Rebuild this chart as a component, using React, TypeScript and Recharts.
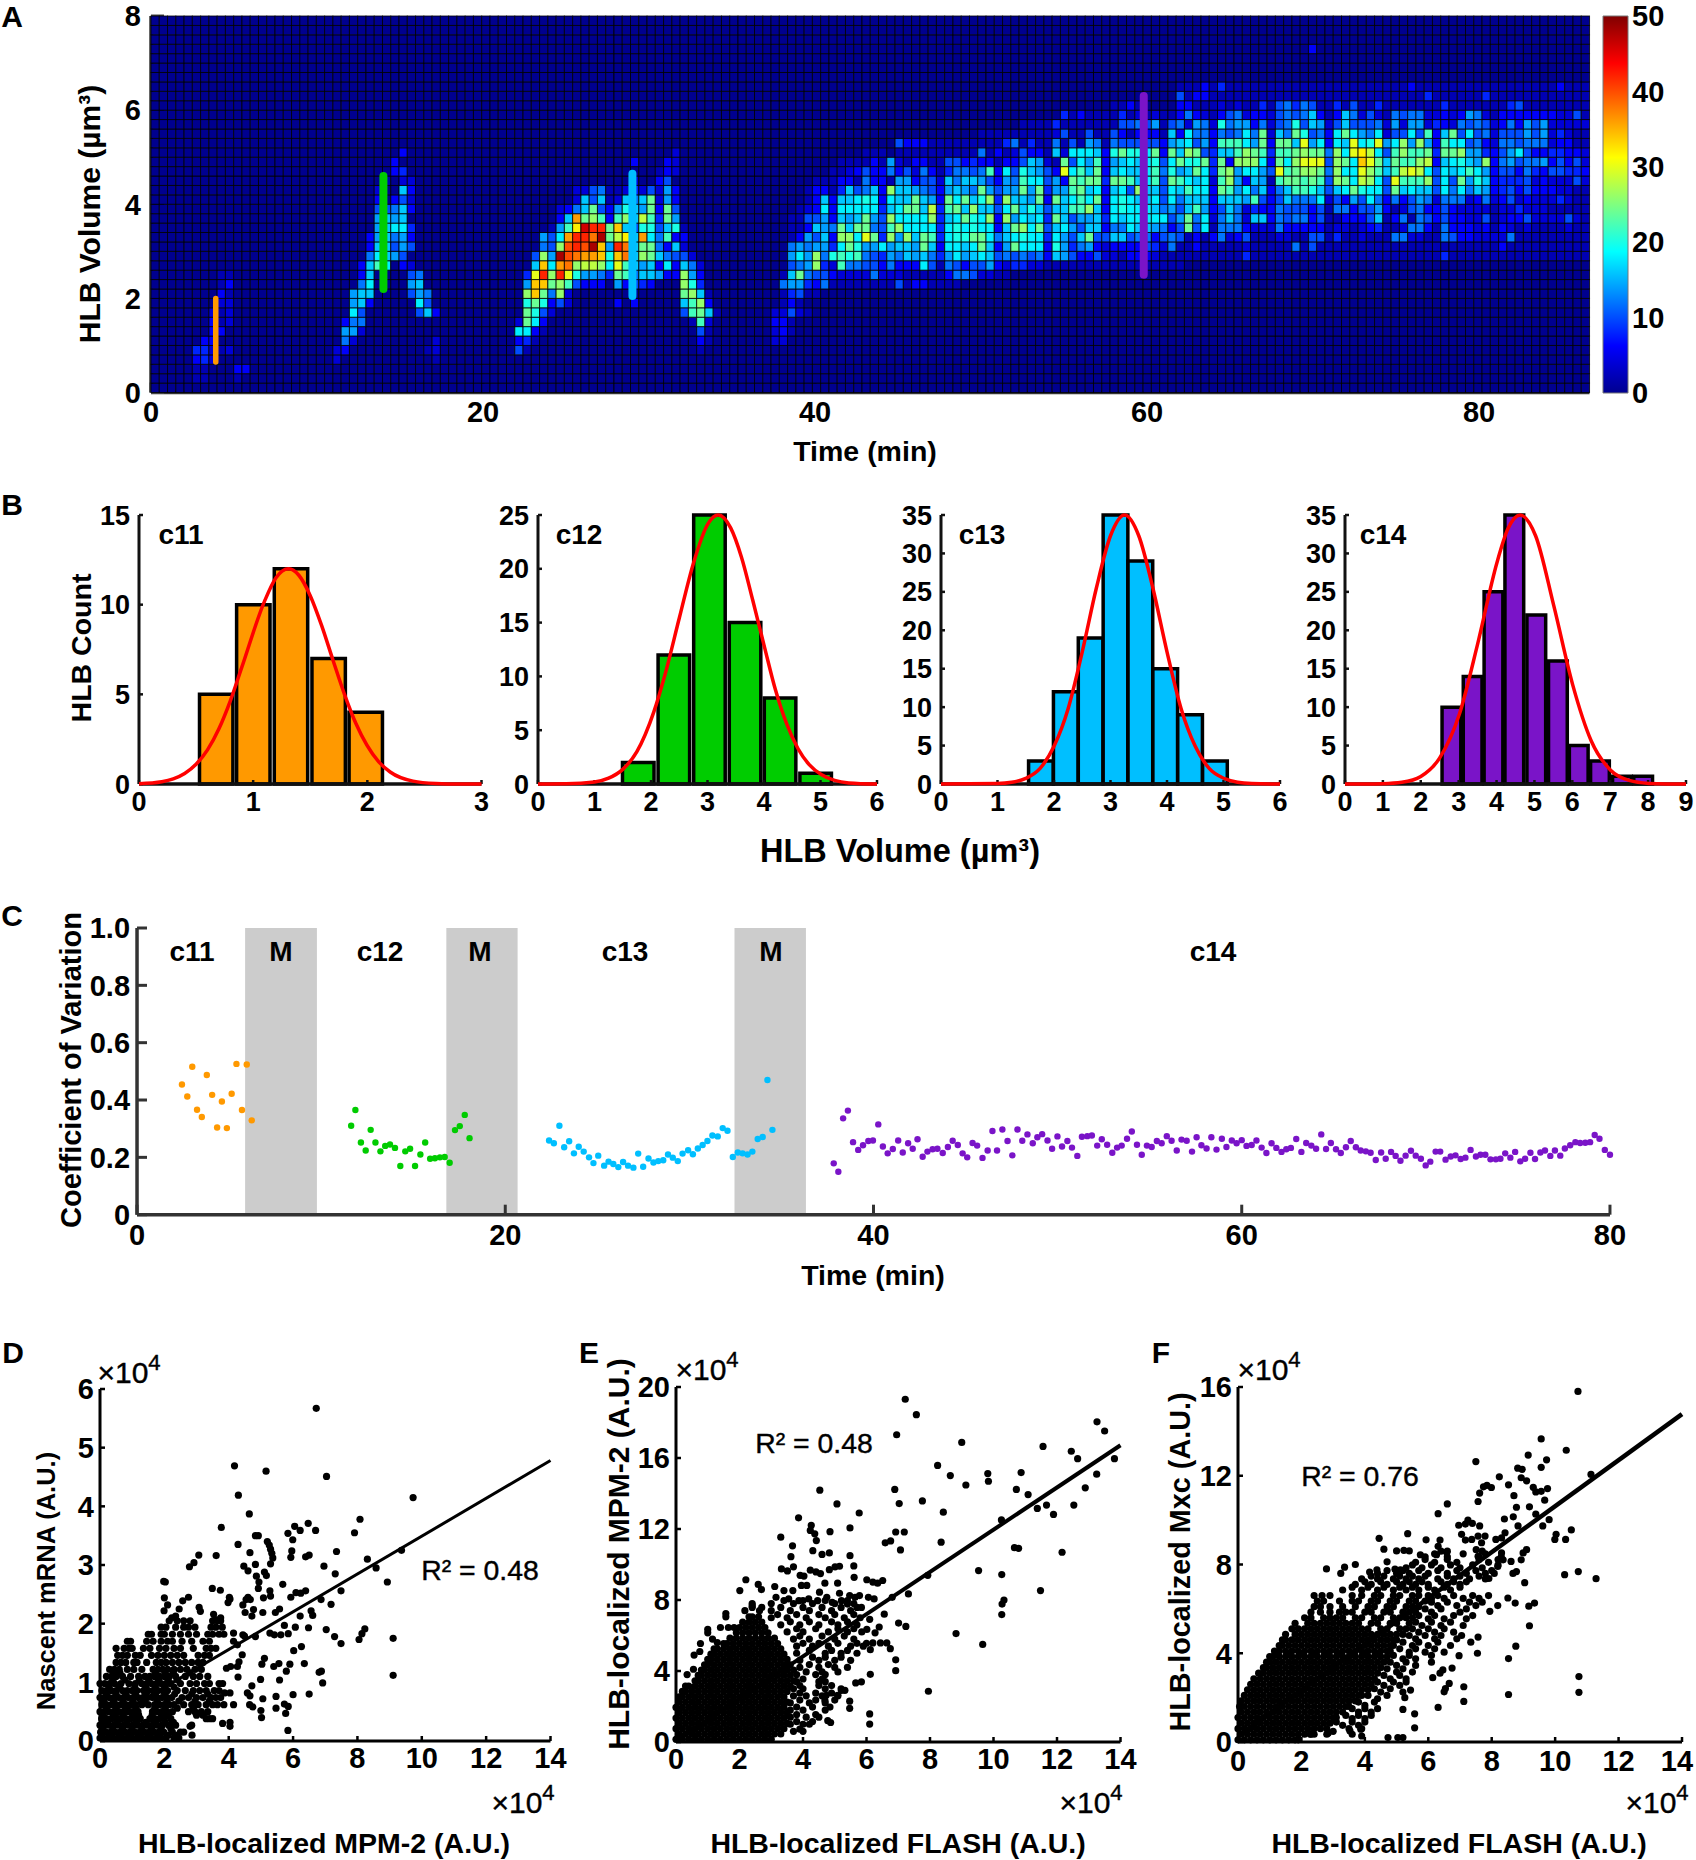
import { Bar, BarChart, Line, LineChart, ReferenceArea, ReferenceLine, Scatter, ScatterChart, XAxis, YAxis } from 'recharts'

const FONT = '"Liberation Sans", Arial, sans-serif'
const AXIS = '#2a2a2a'

// panel A: each block is [row, first column, counts / 2 in base 36]
// a row is 0.2 um3 tall, a column about 0.5 min wide
const heatC11 = [
  [1, 5, '110001'], [2, 5, '110003'], [2, 11, '3'], [3, 5, '342'], [4, 5, '44212'], [5, 6, '33'], [6, 7, '33'],
  [7, 7, '312'], [8, 7, '212'], [9, 8, '22'], [10, 8, '31'], [11, 8, '13'], [12, 8, '11'],
]
const heatC12 = [
  [3, 22, '2000000000001'], [4, 22, '2300000000012'], [5, 22, '0620000000002'], [6, 22, '0772000000000'],
  [7, 22, '0366000000000'], [8, 22, '0095000000583'], [9, 22, '0078300000950'], [10, 22, '0078800005760'],
  [11, 22, '0006900007800'], [12, 22, '0003800005600'], [13, 22, '00038b9032000'], [14, 22, '0000698750000'],
  [15, 22, '0000388575000'], [16, 22, '0000378673000'], [17, 22, '0000078994000'], [18, 22, '0000078780000'],
  [19, 22, '0000055683000'], [20, 22, '0000030352000'], [21, 22, '0000020083000'], [22, 22, '0000001022000'],
  [23, 22, '0000000340000'], [24, 22, '0000000300000'], [25, 22, '0000000030000'],
]
const heatC13 = [
  [4, 44, '51000 00000 00000 00000 00100'], [5, 44, '34100 00000 00000 00000 00310'],
  [6, 44, '99310 00000 00000 00000 00510'], [7, 44, '2c930 00000 00000 00000 01b20'],
  [8, 44, '0ca52 00000 00000 00000 5bc81'], [9, 44, '0aca3 52000 00303 00000 8bd30'],
  [10, 44, '0dhc6 d2000 00000 00000 cd810'], [11, 44, '07hhc db533 30735 43000 da400'],
  [12, 44, '04fld lfa77 64cb6 88733 d7300'], [13, 44, '008h9 ijdee d9fb8 78393 86200'],
  [14, 44, '005d7 okjii hahj8 dc865 52000'], [15, 44, '00065 dklko h7lj8 cc638 20000'],
  [16, 44, '00075 9illj oceg8 i96b3 30000'], [17, 44, '00001 7bgnl lch85 aa58a 10000'],
  [18, 44, '00000 38icd b3bd8 eb4c7 00000'], [19, 44, '00000 2368c 537a8 7c3c5 00000'],
  [20, 44, '00000 00285 81286 8c273 00000'], [21, 44, '00000 00225 61124 25273 00000'],
  [22, 44, '00000 00000 00002 00350 00000'], [23, 44, '00000 00000 00000 00132 00000'],
  [24, 44, '00000 00000 00003 00032 00000'], [25, 44, '00000 00000 00000 00002 00000'],
]
const heatC14Early = [
  [5, 75, '22'], [6, 75, '231'], [7, 75, '331'], [8, 75, '22521'], [9, 76, '131'], [10, 76, '14511'],
  [11, 74, '0067743611 1111115133 1111'], [12, 74, '0018c65532 2226222111 1136652211'],
  [13, 74, '000567d42b 6655363339 5165355732 4422111111 11111111111'],
  [14, 74, '000797d6ab ab65476878 6479789856 5656387533 52213332111'],
  [15, 74, '0006767749 ca7797887c 839989c837 c9993a7467 32333354263'],
  [16, 74, '000137583d d9fc4d7d8c b49aacc968 9a9949758c 55885663566'],
  [17, 74, '000113876c 8cc65bd999 949a9a9938 cd9c589758 83669887635'],
  [18, 74, '0001155738 78c75d9999 d489ca9d3d 79894c8577 84989999957'],
  [19, 74, '0000123939 9999489cc8 e4bc8d8859 c8a8588bbd 839a9998678'],
  [20, 74, '0000013838 89a93988c8 73c9c8ad4d 887c3c89b9 c39a9889598'],
  [21, 74, '0000013314 85683d8876 537876c757 7c7c477bc8 93895d88599'],
  [22, 74, '0000001113 3163317735 5286887537 6b99573cbc c4ccb89b5cc'],
  [23, 74, '0000000011 2353363526 3146656b39 5a8753f9b8 c389889b6aa'],
  [24, 74, '0000000001 1113172133 1155343313 358721c597 b378989a599'],
  [25, 84, '0011101111 1111116131 2533182999 83acaa9c3ca'],
  [26, 90, '5333 1111111114 6141161517 61655555377'],
  [27, 100, '1111 1111125115 11531333185'], [28, 105, '111141111 11155657153'],
  [29, 110, '41311 1141212111'], [30, 116, '1131'],
]
const heatC14Late = [
  [14, 124, '1111111141 1111111111 1111111111 1141111111 1111111111'],
  [15, 124, '1131111121 1111615111 1111111111 1111111113 1111111111'],
  [16, 124, '5131362351 1122115514 1121116622 1165332222 6111111111'],
  [17, 124, '5c59166632 2263333312 2123411266 3163332313 2121111211'],
  [18, 124, '7c69268628 8365663511 3335813616 5353322512 3352222521'],
  [19, 124, '58b7358624 3365553516 6355731256 3353222212 2422211111'],
  [20, 124, '688838887b 5358666925 3759636357 6266623623 5232224211'],
  [21, 124, '8b993cb796 8368bba858 9ca995c898 8596968734 5353332211'],
  [22, 124, 'b9892bd738 71bccbcb5d c9ed95fbbb d595c7a834 4452322252'],
  [23, 124, '78c94cd799 75fbcddc6d 99fdb8befe 95989b9735 5364355443'],
  [24, 124, 'caac4c3ddd 93c9dfff5d c9hfc8cbbd e389a87d36 7566735352'],
  [25, 124, '8dc5488bdc b4bbcdcc6d 9fge95bdbb c4ccd77435 7953344332'],
  [26, 124, '89573bbb97 c3cc8f7939 8f9af79d7d 73b9956326 6566623311'],
  [27, 124, '3966365696 c286ca5639 c976925595 b38c595625 5575724211'],
  [28, 124, '62762a6773 6256a58725 8555627277 2432656523 6375722222'],
  [29, 124, '3632135623 3256568313 8625216566 2232376213 3333332251'],
  [30, 124, '3311121211 4156465114 1511411111 1141111111 4511111111'],
  [31, 124, '5133111111 1111111111 1111111111 4111111411 1111111111'],
  [32, 124, '1113141111 1111111111 1111111131 1111111111 1111113111'],
  [36, 140, '3'],
]
const HEAT_ROWS = 40
const HEAT_COLS = 174
const COL_MIN = 0.498
const ROW_UM = 0.2

const grid: number[][] = Array.from({ length: HEAT_ROWS }, () => new Array(HEAT_COLS).fill(0))
;[heatC11, heatC12, heatC13, heatC14Early, heatC14Late].forEach(block =>
  block.forEach(([row, start, text]: any) => {
    text.replace(/ /g, '').split('').forEach((ch: string, i: number) => {
      const c = start + i
      if (c < HEAT_COLS) grid[row][c] = parseInt(ch, 36) * 2
    })
  }),
)
const heatCells = grid.flatMap((cols, r) =>
  cols.map((v, c) => ({ x: (c + 0.5) * COL_MIN, y: (r + 0.5) * ROW_UM, v })),
)
const heatTimeTicks = [0, 20, 40, 60, 80]
const heatVolumeTicks = [0, 2, 4, 6, 8]
const colorbarTicks = [0, 10, 20, 30, 40, 50]
const colorbarData = [{ name: 'scale', top: 50 }]
const cycleMarkers = [
  { x: 3.9, from: 0.65, to: 2.0, color: '#ff9900', width: 5.5 },
  { x: 14, from: 2.2, to: 4.6, color: '#00cc00', width: 8 },
  { x: 29, from: 2.05, to: 4.65, color: '#00bfff', width: 8 },
  { x: 59.8, from: 2.5, to: 6.3, color: '#7a14c8', width: 8 },
]

// panel B
const c11Centers = [0.675, 1.0, 1.33, 1.66, 1.985]
const c11Counts = [5, 10, 12, 7, 4]
const c11FitX = [0, 0.2, 0.3, 0.4, 0.5, 0.6, 0.7, 0.8, 0.9, 1.1, 1.2, 1.31, 1.4, 1.5, 1.6, 1.7, 1.8, 1.9, 2.1, 2.2, 2.4, 2.6, 2.8, 3]
const c11FitY = [0.02, 0.13, 0.29, 0.59, 1.1, 1.9, 3.08, 4.64, 6.5, 10.2, 11.5, 12, 11.64, 10.5, 8.83, 6.89, 5, 3.37, 1.23, 0.67, 0.16, 0.03, 0, 0]
const c12Centers = [1.77, 2.4, 3.03, 3.66, 4.28, 4.91]
const c12Counts = [2, 12, 25, 15, 8, 1]
const c12FitX = [0, 0.5, 1, 1.25, 1.5, 1.75, 2.05, 2.25, 2.5, 2.75, 3.01, 3.19, 3.41, 3.6, 3.8, 4.01, 4.2, 4.4, 4.6, 4.8, 5.02, 5.25, 5.5, 6]
const c12FitY = [0, 0.015, 0.19, 0.54, 1.36, 3, 6.7, 10.2, 15.4, 20.5, 24.2, 25, 23.8, 21.1, 17.1, 12.7, 8.8, 5.6, 3.3, 1.8, 0.85, 0.33, 0.1, 0]
const c13Centers = [1.77, 2.21, 2.65, 3.09, 3.53, 3.97, 4.41, 4.85]
const c13Counts = [3, 12, 19, 35, 29, 15, 9, 3]
const c13FitX = [0, 1, 1.25, 1.5, 1.75, 2, 2.25, 2.5, 2.75, 3, 3.25, 3.5, 3.75, 4, 4.25, 4.5, 4.75, 5.02, 5.25, 5.5, 6]
const c13FitY = [0, 0.06, 0.22, 0.73, 2, 4.9, 9.8, 17.2, 25.5, 32.3, 35, 32.3, 25.5, 17.2, 9.8, 4.9, 2, 0.7, 0.22, 0.06, 0]
const c14Centers = [2.81, 3.37, 3.92, 4.47, 5.05, 5.62, 6.17, 6.73, 7.31, 7.87]
const c14Counts = [10, 14, 25, 35, 22, 16, 5, 3, 1, 1]
const c14FitX = [0, 0.5, 1, 1.5, 2, 2.5, 3.02, 3.5, 4.01, 4.3, 4.62, 5.03, 5.51, 6.01, 6.5, 7.01, 7.5, 8.02, 8.5, 9]
const c14FitY = [0, 0.005, 0.04, 0.22, 0.98, 3.4, 9.1, 18.2, 28.8, 33.2, 35, 32.3, 23.2, 12.9, 5.6, 1.8, 0.47, 0.08, 0.01, 0]

// panel C
const c11CvX = [2.44, 2.73, 3.0, 3.26, 3.52, 3.79, 4.08, 4.35, 4.61, 4.88, 5.14, 5.4, 5.7, 5.96, 6.23]
const c11CvY = [0.454, 0.412, 0.516, 0.366, 0.341, 0.487, 0.418, 0.304, 0.395, 0.302, 0.422, 0.526, 0.365, 0.524, 0.329]
const c12CvX = [11.63, 11.86, 12.16, 12.42, 12.69, 12.95, 13.22, 13.48, 13.74, 14.01, 14.3, 14.57, 14.83, 15.1, 15.39, 15.65, 15.92, 16.18, 16.45, 16.71, 16.98, 17.27, 17.53, 17.8, 18.06]
const c12CvY = [0.31, 0.365, 0.252, 0.224, 0.296, 0.252, 0.221, 0.24, 0.245, 0.233, 0.17, 0.221, 0.23, 0.17, 0.21, 0.252, 0.195, 0.197, 0.2, 0.201, 0.181, 0.295, 0.309, 0.348, 0.267]
const c13CvX = [22.38, 22.64, 22.94, 23.2, 23.47, 23.73, 23.99, 24.26, 24.55, 24.79, 25.05, 25.37, 25.61, 25.87, 26.14, 26.4, 26.67, 26.96, 27.22, 27.49, 27.78, 28.05, 28.31, 28.58, 28.84, 29.1, 29.37, 29.63, 29.93, 30.19, 30.46, 30.72, 30.98, 31.25, 31.54, 31.81, 32.07, 32.36, 32.63, 32.89, 33.16, 33.42, 33.71, 33.98, 34.24, 34.51]
const c13CvY = [0.259, 0.249, 0.31, 0.235, 0.256, 0.214, 0.237, 0.22, 0.2, 0.18, 0.206, 0.171, 0.185, 0.177, 0.166, 0.184, 0.171, 0.164, 0.213, 0.167, 0.196, 0.182, 0.187, 0.19, 0.21, 0.199, 0.187, 0.213, 0.225, 0.211, 0.231, 0.243, 0.257, 0.276, 0.273, 0.302, 0.293, 0.201, 0.217, 0.214, 0.21, 0.22, 0.264, 0.271, 0.47, 0.296]
const c14CvX = [37.84, 38.09, 38.35, 38.61, 38.89, 39.17, 39.43, 39.72, 39.97, 40.26, 40.51, 40.77, 41.05, 41.34, 41.59, 41.88, 42.13, 42.39, 42.67, 42.93, 43.21, 43.47, 43.76, 44.04, 44.3, 44.58, 44.84, 45.09, 45.38, 45.63, 45.92, 46.2, 46.46, 46.71, 47, 47.28, 47.54, 47.82, 48.08, 48.36, 48.65, 48.9, 49.16, 49.45, 49.7, 49.99, 50.24, 50.53, 50.78, 51.07, 51.32, 51.61, 51.86, 52.15, 52.4, 52.69, 52.97, 53.23, 53.48, 53.77, 54.03, 54.31, 54.57, 54.85, 55.11, 55.39, 55.65, 55.93, 56.19, 56.47, 56.73, 57.01, 57.3, 57.55, 57.81, 58.09, 58.35, 58.63, 58.92, 59.17, 59.46, 59.72, 60, 60.26, 60.54, 60.8, 61.08, 61.34, 61.62, 61.88, 62.16, 62.42, 62.67, 62.96, 63.24, 63.5, 63.78, 64.04, 64.32, 64.58, 64.84, 65.12, 65.38, 65.66, 65.92, 66.2, 66.46, 66.74, 67, 67.28, 67.57, 67.82, 68.11, 68.36, 68.62, 68.9, 69.19, 69.45, 69.73, 69.99, 70.24, 70.53, 70.78, 71.07, 71.35, 71.61, 71.89, 72.15, 72.43, 72.72, 72.97, 73.23, 73.51, 73.8, 74.05, 74.31, 74.59, 74.85, 75.13, 75.39, 75.68, 75.93, 76.22, 76.47, 76.76, 77.01, 77.3, 77.55, 77.84, 78.12, 78.38, 78.66, 78.92, 79.17, 79.43, 79.72, 80]
const c14CvY = [0.179, 0.15, 0.336, 0.363, 0.253, 0.226, 0.242, 0.257, 0.259, 0.315, 0.238, 0.214, 0.229, 0.259, 0.217, 0.249, 0.23, 0.263, 0.202, 0.22, 0.228, 0.23, 0.215, 0.236, 0.258, 0.243, 0.214, 0.2, 0.25, 0.241, 0.198, 0.224, 0.292, 0.224, 0.297, 0.257, 0.207, 0.297, 0.258, 0.28, 0.249, 0.27, 0.281, 0.259, 0.23, 0.273, 0.238, 0.257, 0.234, 0.205, 0.272, 0.274, 0.276, 0.241, 0.263, 0.244, 0.216, 0.234, 0.241, 0.265, 0.29, 0.244, 0.209, 0.241, 0.236, 0.257, 0.249, 0.274, 0.258, 0.224, 0.262, 0.258, 0.22, 0.27, 0.242, 0.231, 0.27, 0.227, 0.265, 0.236, 0.259, 0.249, 0.26, 0.24, 0.243, 0.259, 0.234, 0.215, 0.249, 0.233, 0.219, 0.228, 0.233, 0.264, 0.219, 0.25, 0.241, 0.23, 0.28, 0.229, 0.25, 0.228, 0.215, 0.235, 0.257, 0.235, 0.224, 0.221, 0.216, 0.191, 0.217, 0.195, 0.219, 0.205, 0.188, 0.206, 0.223, 0.206, 0.195, 0.172, 0.185, 0.22, 0.22, 0.192, 0.203, 0.207, 0.194, 0.199, 0.226, 0.203, 0.209, 0.209, 0.193, 0.193, 0.195, 0.214, 0.199, 0.219, 0.186, 0.195, 0.216, 0.194, 0.217, 0.224, 0.205, 0.224, 0.206, 0.231, 0.242, 0.253, 0.25, 0.251, 0.253, 0.278, 0.265, 0.226, 0.209]
const mitosisBands = [[5.87, 9.77], [16.8, 20.67], [32.45, 36.33]]
const cvTimeTicks = [0, 20, 40, 60, 80]
const cvTicks = [0, 0.2, 0.4, 0.6, 0.8, 1]

// panels D-F, all in units of 10^4
const tickX = [0, 2, 4, 6, 8, 10, 12, 14]
const mrnaTicks = [0, 1, 2, 3, 4, 5, 6]
const mpmTicks = [0, 4, 8, 12, 16, 20]
const mxcTicks = [0, 4, 8, 12, 16]
const mrnaFit = [[0, 0.27], [14, 4.78]]
const mpmFit = [[0, 0.06], [14, 16.72]]
const mxcFit = [[0, 0.25], [14, 14.78]]

const mrnaRows: [number, number[]][] = [
  [0.05, [0, 0.1, 0.25, 0.4, 0.55, 0.7, 0.85, 1, 1.15, 1.3, 1.45, 1.6, 1.75, 1.9, 2.05, 2.3, 2.45]],
  [0.1, [0.05, 0.33, 0.62, 0.92, 1.22, 1.52, 1.82, 2.12, 2.4]],
  [0.15, [0.02, 0.18, 0.33, 0.48, 0.63, 0.78, 0.93, 1.08, 1.23, 1.38, 1.53, 1.68, 1.83, 1.98, 2.25, 2.5, 2.6]],
  [0.21, [0.1, 0.4, 0.7, 1, 1.3, 1.6, 1.9, 2.2]],
  [0.27, [0, 0.12, 0.28, 0.43, 0.58, 0.73, 0.88, 1.03, 1.18, 1.33, 1.48, 1.63, 1.78, 1.93, 2.13, 2.35, 2.85]],
  [0.32, [0.2, 0.52, 0.83, 1.12, 1.42, 1.72, 2.02, 2.28]],
  [0.38, [0.05, 0.2, 0.35, 0.5, 0.65, 0.8, 0.95, 1.1, 1.25, 1.55, 1.7, 1.85, 2, 2.2, 3.3, 3.4, 3.5]],
  [0.44, [0.1, 0.42, 0.72, 1.02, 1.2, 1.62, 1.92, 2.12, 3.0, 3.2]],
  [0.5, [0, 0.13, 0.28, 0.43, 0.58, 0.73, 0.88, 1.03, 1.18, 1.63, 1.78, 1.93, 2.08, 2.25, 2.75, 2.95, 3.15, 3.35]],
  [0.56, [0.2, 0.5, 0.8, 1.12, 1.7, 2.02, 2.4, 2.9]],
  [0.62, [0.06, 0.2, 0.35, 0.5, 0.65, 0.8, 0.95, 1.1, 1.3, 1.5, 1.7, 1.85, 2, 2.15, 2.3, 2.6, 2.85, 3.05, 3.3, 3.5, 3.65, 3.85]],
  [0.68, [0.12, 0.42, 0.72, 1.02, 1.38, 1.78, 2.08, 2.45, 2.95, 3.4]],
  [0.74, [0, 0.13, 0.28, 0.43, 0.58, 0.73, 0.88, 1.03, 1.18, 1.33, 1.48, 1.63, 1.78, 1.93, 2.08, 2.23, 2.55, 2.75, 3, 3.2, 3.45, 3.6, 3.75]],
  [0.8, [0.2, 0.5, 0.8, 1.1, 1.42, 1.72, 2.02, 2.32, 2.85, 3.35]],
  [0.86, [0.06, 0.2, 0.35, 0.5, 0.7, 0.85, 1, 1.15, 1.35, 1.5, 1.65, 1.8, 1.95, 2.1, 2.4, 2.65, 2.9, 3.1, 3.3, 3.55, 3.7]],
  [0.92, [0.28, 0.6, 1.08, 1.42, 1.72, 2.02, 2.3]],
  [0.98, [0, 0.15, 0.3, 0.45, 0.65, 0.9, 1.1, 1.3, 1.45, 1.6, 1.75, 1.9, 2.05, 2.2, 2.5, 2.8, 3, 3.25, 3.4]],
  [1.04, [0.4, 0.78, 1.22, 1.52, 1.82, 2.12, 2.42]],
  [1.1, [0.2, 0.35, 0.5, 0.7, 0.95, 1.2, 1.4, 1.55, 1.7, 1.85, 2, 2.15, 2.35, 2.65, 2.9, 3.1, 3.35]],
  [1.16, [0.42, 0.62, 1.72, 2.02, 2.28, 2.8]],
  [1.22, [0.3, 0.45, 0.6, 0.85, 1.05, 1.3, 1.65, 1.8, 1.95, 2.1, 2.3, 2.5, 2.7, 2.95, 3.15]],
  [1.34, [0.5, 0.65, 0.8, 1.05, 1.15, 1.45, 1.75, 1.9, 2.05, 2.25, 2.45, 2.65, 2.85, 3.05, 3.2]],
  [1.46, [0.55, 0.7, 0.85, 1.1, 1.25, 1.6, 1.8, 2, 2.2, 2.4, 2.6, 3.05, 3.25, 3.4]],
  [1.58, [0.5, 0.75, 0.9, 1, 1.35, 1.55, 1.85, 2.05, 2.3, 2.5, 2.9, 3.3, 3.45, 3.6]],
  [1.7, [0.85, 0.95, 1.45, 1.65, 1.9, 2.1, 2.25, 2.55, 2.85, 3.2, 3.4]],
  [1.82, [1.5, 1.6, 1.9, 2, 2.25, 2.5, 2.75, 3, 3.35, 3.5, 3.7, 3.85]],
  [1.94, [1.9, 2.05, 2.35, 2.6, 2.75, 2.95, 3.45, 3.6, 3.8]],
  [2.05, [2.15, 2.4, 2.6, 2.8, 3.5, 3.65, 3.75]],
]
const mrnaSparse = [
  [6.72, 5.67], [4.18, 4.69], [5.16, 4.6], [7.04, 4.51], [4.3, 4.19], [9.73, 4.15], [4.64, 3.87], [3.77, 3.64], [8.08, 3.78], [6.47, 3.71], [6.05, 3.66], [6.7, 3.59], [6.22, 3.59], [5.84, 3.54], [7.91, 3.55], [4.83, 3.5], [4.92, 3.5], [5.99, 3.43], [5.2, 3.4], [5.26, 3.34], [5.3, 3.27], [5.34, 3.2], [5.37, 3.12], [5.3, 3.02], [4.29, 3.35], [9.37, 3.25], [5.96, 3.24], [7.35, 3.23], [4.66, 3.21], [6.5, 3.17], [6.39, 3.14], [5.93, 3.13], [8.31, 3.1], [3.07, 3.17], [3.61, 3.16], [2.92, 3.04], [2.78, 2.97], [4.47, 2.98], [4.6, 2.9], [4.83, 3.01], [4.86, 2.81], [5.11, 2.88], [5.17, 2.82], [6.96, 2.98], [8.58, 2.95], [7.31, 2.85], [8.93, 2.71], [4.94, 2.71], [4.92, 2.6], [1.98, 2.72], [2.03, 2.71], [5.68, 2.67], [3.49, 2.6], [3.74, 2.57], [5.28, 2.56], [7.49, 2.56], [6.39, 2.56], [6.24, 2.52], [6.09, 2.53], [5.3, 2.47], [5.08, 2.44], [5.93, 2.45], [6.87, 2.41], [2, 2.44], [2.75, 2.45], [2.57, 2.39], [4.04, 2.42], [3.98, 2.36], [4.02, 2.45], [4.6, 2.45], [4.67, 2.41], [4.54, 2.41], [7.18, 2.33], [2.1, 2.32], [2.46, 2.25], [3.08, 2.28], [3.12, 2.21], [4.44, 2.32], [4.77, 2.24], [4.51, 2.19], [4.72, 2.13], [5.06, 2.19], [5.45, 2.19], [5.58, 2.25], [6.56, 2.22], [6.61, 2.14], [6.22, 2.13], [3.53, 2.16], [3.75, 2.1], [3.59, 2.07], [1.99, 2.22], [2.23, 2.1], [2.35, 2.13], [5.73, 1.97], [6.07, 1.94], [6.48, 1.93], [7.03, 1.9], [8.23, 1.91], [8.14, 1.83], [8.05, 1.73], [7.29, 1.78], [7.49, 1.66], [9.11, 1.75], [5.28, 1.84], [5.42, 1.81], [5.62, 1.81], [5.85, 1.83], [4.83, 1.78], [4.49, 1.79], [6.02, 1.54], [6.26, 1.61], [9.11, 1.12], [6.35, 1.32], [5.9, 1.31], [5.11, 1.41], [5.03, 1.31], [5.4, 1.27], [5.56, 1.32], [5.79, 1.19], [6.88, 1.19], [6.81, 1.17], [4.99, 1.05], [5.58, 1.04], [6.92, 0.99], [4.72, 0.94], [6, 0.79], [6.5, 0.8], [4.58, 0.82], [4.66, 0.77], [5.06, 0.72], [5.47, 0.76], [4.65, 0.62], [4.75, 0.58], [4.15, 0.62], [5.47, 0.56], [5.73, 0.63], [5.85, 0.59], [5, 0.52], [5.02, 0.4], [5.77, 0.47], [5.84, 0.18], [4.04, 0.32], [4.04, 0.25], [3.81, 0.3], [3.87, 0.82], [4.04, 0.82], [3.81, 0.98], [3.7, 0.98], [4.29, 1.09], [3.93, 1.24], [4.06, 1.27], [4.27, 1.27], [4.32, 1.35], [4.42, 1.47], [4.27, 1.64], [4.15, 1.7], [4.15, 1.84], [4.44, 1.81], [2.86, 0.1], [2.8, 0.25],
]

const mpmRows: [number, number[]][] = [
  [0.15, [0, 0.2, 0.4, 0.6, 0.8, 1, 1.2, 1.4, 1.6, 1.8, 2, 2.2, 2.4, 2.6, 2.8, 3]],
  [0.45, [0.1, 0.3, 0.5, 0.7, 0.9, 1.1, 1.3, 1.5, 1.7, 1.9, 2.1, 2.3, 2.5, 2.7, 2.9, 3.1, 3.3]],
  [0.75, [0, 0.2, 0.4, 0.6, 0.8, 1, 1.2, 1.4, 1.6, 1.8, 2, 2.2, 2.4, 2.6, 2.8, 3, 3.2, 3.4]],
  [1.05, [0.1, 0.3, 0.5, 0.7, 0.9, 1.1, 1.3, 1.5, 1.7, 1.9, 2.1, 2.3, 2.5, 2.7, 2.9, 3.1, 3.3, 3.5]],
  [1.35, [0, 0.2, 0.4, 0.6, 0.8, 1, 1.2, 1.4, 1.6, 1.8, 2, 2.2, 2.4, 2.6, 2.8, 3, 3.2, 3.4]],
  [1.65, [0.1, 0.3, 0.5, 0.7, 0.9, 1.1, 1.3, 1.5, 1.7, 1.9, 2.1, 2.3, 2.5, 2.7, 2.9, 3.1, 3.3, 3.5]],
  [1.95, [0, 0.2, 0.4, 0.6, 0.8, 1, 1.2, 1.4, 1.6, 1.8, 2, 2.2, 2.4, 2.6, 2.8, 3, 3.2, 3.4]],
  [2.25, [0.1, 0.3, 0.5, 0.7, 0.9, 1.1, 1.3, 1.5, 1.7, 1.9, 2.1, 2.3, 2.5, 2.7, 2.9, 3.1, 3.3, 3.5]],
  [2.55, [0.1, 0.2, 0.4, 0.6, 0.8, 1, 1.2, 1.4, 1.6, 1.8, 2, 2.2, 2.4, 2.6, 2.8, 3, 3.2, 3.4]],
  [2.85, [0.2, 0.3, 0.5, 0.7, 0.9, 1.1, 1.3, 1.5, 1.7, 1.9, 2.1, 2.3, 2.5, 2.7, 2.9, 3.1, 3.3, 3.5]],
  [3.15, [0.3, 0.4, 0.6, 0.8, 1, 1.2, 1.4, 1.6, 1.8, 2, 2.2, 2.4, 2.6, 2.8, 3, 3.2, 3.4, 3.6]],
  [3.45, [0.6, 0.7, 0.9, 1.1, 1.3, 1.5, 1.7, 1.9, 2.1, 2.3, 2.5, 2.7, 2.9, 3.1, 3.3, 3.5, 3.7]],
  [3.75, [0.7, 0.8, 1, 1.2, 1.4, 1.6, 1.8, 2, 2.2, 2.4, 2.6, 2.8, 3, 3.2, 3.4, 3.6]],
  [4.05, [0.8, 0.9, 1.1, 1.3, 1.5, 1.7, 1.9, 2.1, 2.3, 2.5, 2.7, 2.9, 3.1, 3.3, 3.5, 3.7]],
  [4.35, [0.9, 1, 1.2, 1.4, 1.6, 1.8, 2, 2.2, 2.4, 2.6, 2.8, 3, 3.2, 3.4, 3.6]],
  [4.65, [1, 1.1, 1.3, 1.5, 1.7, 1.9, 2.1, 2.3, 2.5, 2.7, 2.9, 3.1, 3.3, 3.5]],
  [4.95, [1.1, 1.2, 1.4, 1.6, 1.8, 2, 2.2, 2.4, 2.6, 2.8, 3, 3.2, 3.4]],
  [5.25, [1.2, 1.3, 1.5, 1.7, 1.9, 2.1, 2.3, 2.5, 2.7, 2.9, 3.1, 3.3]],
  [5.55, [0.77, 1.5, 1.6, 1.8, 2, 2.2, 2.4, 2.6, 2.8, 3, 3.2]],
  [5.85, [1.7, 1.9, 2.1, 2.3, 2.5, 2.7, 2.9, 3.1]],
  [6.15, [1, 1.9, 2.1, 2.3, 2.5, 2.7, 2.9]],
  [6.45, [1.4, 1.65, 1.83, 2, 2.2, 2.4, 2.6, 2.8]],
  [6.75, [2.1, 2.3, 2.5, 2.7]],
  [7.05, [1.57, 2.3, 2.4, 2.6]],
  [0.6, [3.7, 4.0]], [0.72, [3.9]],
  [1, [3.6, 4, 4.2]], [1.15, [3.8, 4.3]],
  [1.4, [3.6, 4.1, 4.5]], [1.55, [3.8, 4.4]],
  [1.8, [3.6, 4, 4.7]], [1.97, [3.8, 4.3, 4.85]],
  [2.2, [3.6, 4.2, 4.7]], [2.36, [3.9, 4.4, 5.0]],
  [2.6, [3.7, 4.1, 4.6, 5.1]], [2.76, [3.9, 4.4, 4.9]],
  [3, [3.7, 4, 4.7, 5.2]], [3.18, [3.9, 4.5, 4.9]],
  [3.4, [3.8, 4.5, 4.7]], [3.55, [4, 4.6]],
  [3.8, [3.8, 4.4, 4.7]], [3.95, [4.1, 4.6, 5.1]],
  [4.2, [3.9, 4.5, 5, 5.4]], [4.36, [4.2, 4.8]],
  [4.6, [3.9, 4.5, 5, 5.5]], [4.78, [4.3, 4.7, 5.2]],
  [5, [3.8, 4.7, 5.2, 5.7]], [5.16, [4.2, 4.9, 5.4]],
  [5.4, [3.8, 4.3, 4.8, 5.5, 5.9]], [5.56, [4, 4.5, 5.1, 5.7, 6]],
  [5.8, [3.7, 4.2, 5, 5.6]], [5.97, [3.9, 4.6, 5.3]],
  [6.2, [3.5, 4, 4.8, 5.4, 5.85]], [6.38, [3.8, 4.4, 5.1, 5.6]],
  [6.6, [3.3, 3.9, 4.5, 5.1, 5.7]], [6.77, [3.6, 4.2, 4.9, 5.4]],
  [7, [3, 3.5, 4.1, 4.7, 5.3, 5.8]], [7.18, [3.2, 3.8, 4.5, 5, 5.6]],
  [7.4, [2.17, 2.63, 3, 3.6, 4.2, 4.9, 5.5]], [7.58, [2.4, 2.7, 3.3, 4, 4.6, 5.2, 5.7]],
  [7.8, [2.4, 3, 3.7, 4.3, 5, 5.6]], [7.97, [3.4, 4, 4.7, 5.4]],
  [7.24, [1.57]], [7.68, [2.4]], [6.34, [1]], [4.9, [0.57]], [5.1, [0.75]], [5.8, [1.15]], [5.6, [1.3]], [3.8, [0.35]], [4.1, [0.55]],
]
const mpmSparse = [
  [7.22, 19.31], [7.57, 18.44], [6.95, 17.31], [9, 16.88], [13.26, 18.04], [13.5, 17.52], [11.56, 16.65], [12.45, 16.38], [12.65, 15.96], [13.81, 15.96], [8.24, 15.58], [8.64, 15.01], [9.82, 15.12], [9.84, 14.69], [10.87, 15.18], [13.25, 15.09], [9.13, 14.48], [10.72, 14.23], [6.89, 14.23], [4.53, 14.19], [11.09, 13.94], [12.89, 14.32], [7.76, 13.58], [7.03, 13.43], [5.07, 13.41], [12.53, 13.35], [11.67, 13.35], [11.38, 13.16], [8.42, 12.95], [11.89, 12.82], [5.77, 12.9], [3.86, 12.63], [10.25, 12.51], [4.26, 12.21], [5.48, 12.06], [6.92, 11.83], [7.19, 11.83], [4.85, 11.85], [4.23, 11.92], [4.37, 11.73], [3.3, 11.54], [4.42, 11.35], [6.59, 11.22], [6.76, 11.33], [8.35, 11.26], [3.67, 11.05], [10.66, 10.95], [10.79, 10.91], [7.07, 10.82], [12.16, 10.69], [4.31, 10.78], [4.83, 10.65], [4.6, 10.57], [5.48, 10.5], [3.62, 10.44], [5.6, 9.92], [5.15, 9.9], [5.01, 9.87], [3.7, 9.87], [3.32, 9.75], [3.51, 9.64], [4.83, 9.71], [4.23, 9.68], [4.41, 9.58], [4.55, 9.49], [9.53, 9.66], [10.26, 9.43], [7.93, 9.39], [3.91, 9.39], [4.03, 9.35], [5.61, 9.28], [6.01, 9.14], [6.2, 9.01], [6.51, 9.1], [6.35, 8.95], [2.2, 9.14], [5.09, 8.95], [4.69, 8.95], [2.59, 8.88], [4.12, 8.82], [3.95, 8.82], [2.69, 8.59], [3.11, 8.76], [2.01, 8.53], [3.4, 8.53], [11.48, 8.53], [7.32, 8.34], [4.52, 8.44], [3.68, 8.53], [5.15, 8.38], [5.47, 8.25], [5.64, 8.15], [5.78, 8.25], [10.33, 8], [10.27, 7.77], [6.06, 8.15], [6.24, 8.06], [6.81, 8.15], [3.15, 8.15], [3.55, 8.06], [3.87, 7.96], [4.18, 8.06], [4.46, 7.96], [4.75, 8.15], [4.92, 7.87], [5.21, 7.96], [5.4, 7.77], [5.84, 7.58], [10.26, 7.18], [6.56, 7.2], [6.1, 6.91], [7.01, 6.7], [7.24, 6.51], [6.4, 6.48], [8.82, 6.11], [9.66, 5.5], [6.01, 6.34], [6.27, 6.15], [6.2, 5.58], [6.44, 5.58], [6.64, 5.58], [6.75, 5.26], [6.12, 5.2], [6.92, 4.63], [6.92, 4.02], [7.95, 2.86], [6.12, 3.81], [5.84, 3.39], [5.66, 3.33], [5.47, 2.3], [5.47, 1.9], [6.1, 1.58], [6.1, 1.01], [5.21, 2.91], [5.32, 2.91], [5.09, 2.63], [4.78, 1.2], [4.87, 1.1], [4.69, 2.34], [4.73, 2.63],
]

const mxcRows: [number, number[]][] = [
  [0.1, [0, 0.2, 0.4, 0.6, 0.8, 1, 1.2, 1.4, 1.6, 1.8, 1.9]],
  [0.35, [0.1, 0.3, 0.5, 0.7, 0.9, 1.1, 1.3, 1.5, 1.7, 1.9, 2.1, 2.3]],
  [0.6, [0, 0.2, 0.4, 0.6, 0.8, 1, 1.2, 1.4, 1.6, 1.8, 2, 2.2, 2.4, 2.6]],
  [0.85, [0.1, 0.3, 0.5, 0.7, 0.9, 1.1, 1.3, 1.5, 1.7, 1.9, 2.1, 2.3, 2.5, 2.7, 2.9]],
  [1.1, [0, 0.2, 0.4, 0.6, 0.8, 1, 1.2, 1.4, 1.6, 1.8, 2, 2.2, 2.4, 2.6, 2.8, 3, 3.1]],
  [1.35, [0.1, 0.3, 0.5, 0.7, 0.9, 1.1, 1.3, 1.5, 1.7, 1.9, 2.1, 2.3, 2.5, 2.7, 2.9, 3.1, 3.3]],
  [1.6, [0.05, 0.2, 0.4, 0.6, 0.8, 1, 1.2, 1.4, 1.6, 1.8, 2, 2.2, 2.4, 2.6, 2.8, 3, 3.2, 3.4, 3.5]],
  [1.85, [0.1, 0.3, 0.5, 0.7, 0.9, 1.1, 1.3, 1.5, 1.7, 1.9, 2.1, 2.3, 2.5, 2.7, 2.9, 3.1, 3.3, 3.5, 3.7]],
  [2.1, [0.2, 0.4, 0.6, 0.8, 1, 1.2, 1.4, 1.6, 1.8, 2, 2.2, 2.4, 2.6, 2.8, 3, 3.2, 3.4, 3.6, 3.8, 3.9]],
  [2.35, [0.3, 0.5, 0.7, 0.9, 1.1, 1.3, 1.5, 1.7, 1.9, 2.1, 2.3, 2.5, 2.7, 2.9, 3.1, 3.3, 3.5, 3.7, 3.9, 4.1]],
  [2.6, [0.4, 0.6, 0.8, 1, 1.2, 1.4, 1.6, 1.8, 2, 2.2, 2.4, 2.6, 2.8, 3, 3.2, 3.4, 3.6, 3.8, 4, 4.2]],
  [2.85, [0.5, 0.7, 0.9, 1.1, 1.3, 1.5, 1.7, 1.9, 2.1, 2.3, 2.5, 2.7, 2.9, 3.1, 3.3, 3.5, 3.7, 3.9, 4.1, 4.3]],
  [3.1, [0.65, 0.8, 1, 1.2, 1.4, 1.6, 1.8, 2, 2.2, 2.4, 2.6, 2.8, 3, 3.2, 3.4, 3.6, 3.8, 4, 4.2, 4.4]],
  [3.35, [0.8, 0.9, 1.1, 1.3, 1.5, 1.7, 1.9, 2.1, 2.3, 2.5, 2.7, 2.9, 3.1, 3.3, 3.5, 3.7, 3.9, 4.1, 4.3, 4.5]],
  [3.6, [0.9, 1, 1.2, 1.4, 1.6, 1.8, 2, 2.2, 2.4, 2.6, 2.8, 3, 3.2, 3.4, 3.6, 3.8, 4, 4.2, 4.4, 4.6]],
  [3.85, [1, 1.1, 1.3, 1.5, 1.7, 1.9, 2.1, 2.3, 2.5, 2.7, 2.9, 3.1, 3.3, 3.5, 3.7, 3.9, 4.1, 4.3, 4.5, 4.7]],
  [3.97, [1.2, 1.6, 2, 2.4, 2.8, 3.2, 3.6, 4, 4.4]],
  [4.1, [1.15, 1.3, 1.5, 1.7, 1.9, 2.1, 2.3, 2.5, 2.7, 2.9, 3.1, 3.3, 3.5, 3.7, 3.9, 4.1, 4.3, 4.5, 4.7, 4.8]],
  [4.35, [1.3, 1.4, 1.6, 1.8, 2, 2.2, 2.4, 2.6, 2.8, 3, 3.2, 3.4, 3.6, 3.8, 4, 4.2, 4.4, 4.6, 4.8, 4.9]],
  [4.6, [1.4, 1.5, 1.7, 1.9, 2.1, 2.3, 2.5, 2.7, 2.9, 3.1, 3.3, 3.5, 3.7, 3.9, 4.1, 4.3, 4.5, 4.7, 4.9, 5]],
  [4.85, [1.5, 1.8, 2, 2.2, 2.4, 2.6, 2.8, 3, 3.2, 3.4, 3.6, 3.8, 4, 4.2, 4.4, 4.6, 4.8, 5, 5.2]],
  [5.1, [1.7, 1.9, 2.1, 2.3, 2.5, 2.7, 2.9, 3.1, 3.3, 3.5, 3.7, 3.9, 4.1, 4.5, 4.7, 5.1, 5.3]],
  [5.35, [1.8, 2.2, 2.4, 2.6, 2.8, 3, 3.2, 3.4, 3.6, 3.8, 4.2, 4.4, 4.8, 5, 5.4]],
  [5.6, [2.1, 2.3, 2.7, 2.9, 3.1, 3.3, 3.7, 3.9, 4.3, 4.5, 4.9, 5.1, 5.3, 5.5]],
  [5.85, [2.3, 2.6, 2.9, 3.2, 3.4, 3.6, 4, 4.2, 4.6, 4.8, 5.2, 5.4, 5.6]],
  [6.1, [2.4, 2.6, 2.9, 3.3, 3.7, 4.1, 4.3, 4.7, 4.9, 5.3, 5.5, 5.7]],
  [6.35, [2.5, 2.7, 3.2, 3.6, 3.8, 4.2, 4.4, 4.8, 5, 5.4, 5.6, 5.9]],
  [6.6, [2.4, 2.65, 2.9, 3.6, 3.9, 4.3, 4.5, 4.9, 5.1, 5.5, 5.7, 6]],
  [6.85, [3.3, 3.9, 4.4, 4.9, 5.3, 5.7, 6.2, 6.7]],
  [6.98, [3.6, 4.1, 4.6, 5.1, 5.5, 6, 6.5, 7]],
  [7.1, [3.7, 4.2, 4.7, 5.2, 5.6, 6, 6.6, 7]],
  [7.22, [4, 4.5, 5, 5.4, 5.8, 6.4, 6.8, 7.2]],
  [7.35, [3.9, 4.4, 4.9, 5.3, 5.7, 6.3, 6.8, 7.3, 7.8]],
  [7.48, [4.2, 4.6, 5.1, 5.5, 5.9, 6.6, 7, 7.6]],
  [7.6, [4.4, 5, 5.4, 6, 6.6, 7.2, 7.8]],
  [7.73, [4.7, 5.2, 5.7, 6.3, 6.9, 7.5, 8]],
  [7.85, [5.3, 5.8, 6.4, 7, 7.7]],
  [7.98, [5.5, 6.1, 6.7, 7.4, 8.2]],
  [8.1, [5.6, 6.2, 6.9, 7.9]],
  [8.22, [5.9, 6.6, 7.6, 8.2]],
  [8.35, [5.9, 6.6, 7.6, 8.3]],
  [8.48, [6.2, 7.1, 7.8]],
  [8.6, [6.4, 6.6, 7.7]],
  [6.6, [6.3, 6.8, 7.4, 7.9]], [6.47, [6.1, 6.5, 7.1, 7.6]],
  [6.3, [6.1, 6.6, 7.3, 7.7]], [6.15, [6.3, 6.9, 7.5]],
  [6, [5.9, 6.4, 7.2]], [5.85, [6.1, 7]],
  [5.7, [5.7, 6.2, 6.8, 7.4]], [5.55, [6, 6.5, 7.2]],
  [5.4, [5.6, 6.1, 6.7]], [5.25, [5.8, 6.4, 7.1]],
  [5.1, [5.5, 6, 6.5]], [4.95, [5.7, 6.2, 6.8]],
  [4.8, [5.4, 5.9, 6.4, 7.05]], [4.65, [5.6, 6.2, 6.9]],
  [4.5, [5.2, 5.7, 6.3]], [4.35, [5.5, 6, 6.7]],
  [4.2, [5.1, 5.6, 6.2]], [4.05, [5.4, 5.9, 6.5]],
  [3.9, [4.9, 5.4, 6.1]], [3.75, [5.2, 5.6]],
  [3.6, [4.8, 5.3, 6.1]], [3.45, [5, 5.6]],
  [3.3, [4.7, 5.2]], [3.15, [5, 5.5]],
  [3, [4.6, 5.1]], [2.85, [4.8, 5.3]],
  [2.7, [4.4, 4.9, 5.3]], [2.55, [4.6, 5.1]],
  [2.4, [4.3, 4.8]], [2.25, [4.5, 5.2]],
  [2.1, [4.1, 4.7]], [1.95, [4.4]],
  [1.8, [3.8, 4.3]], [1.65, [4]],
  [1.5, [3.6, 4, 4.4]], [1.35, [3.8, 4.2]],
  [1.2, [3.4, 3.8, 4.2]], [1.05, [3.6, 4]],
  [0.9, [3.1, 3.6, 4]], [0.75, [3.3, 3.8]],
  [0.6, [2.8, 3.5, 3.9]], [0.48, [3]],
  [0.35, [2.4, 2.8, 3.6]],
]
const mxcSparse = [
  [10.72, 15.8], [9.56, 13.66], [10.35, 13.15], [9.15, 12.93], [9.73, 12.72], [7.5, 12.64], [8.82, 12.34], [8.96, 12.29], [9.56, 12.38], [11.13, 12.06], [8.24, 11.95], [8.93, 11.91], [9.1, 11.77], [8.53, 11.59], [7.85, 11.57], [7.74, 11.5], [7.99, 11.47], [7.62, 11.22], [9.31, 11.48], [9.39, 11.27], [9.56, 11.3], [9.76, 11.42], [8.7, 11.1], [9.67, 10.9], [7.57, 10.84], [6.6, 10.73], [8.78, 10.58], [9.19, 10.6], [6.31, 10.29], [9.39, 10.27], [8.4, 10.05], [8.68, 10.15], [9.81, 10.02], [7.25, 10], [7.39, 9.85], [8.83, 9.74], [6.96, 9.77], [7.17, 9.82], [9.61, 9.74], [7.62, 9.74], [10.51, 9.56], [10.03, 9.36], [9.99, 9.13], [10.33, 9.13], [5.35, 9.39], [4.45, 9.18], [5.93, 9.11], [6.37, 9.1], [7.05, 9.36], [7.17, 9.1], [7.37, 9.13], [8.42, 9.43], [8.31, 9.2], [8.13, 9.13], [7.57, 9.28], [7.79, 9.28], [7.68, 8.98], [6.31, 8.82], [4.6, 8.69], [5, 8.61], [5.23, 8.64], [5.4, 8.61], [9.1, 8.67], [8.99, 8.52], [5.75, 8.44], [6.26, 8.44], [6.58, 8.55], [7.51, 8.67], [7.57, 8.37], [8.31, 8.52], [8.36, 8.21], [8.93, 8.21], [8.61, 8.14], [4.7, 8.12], [3.7, 8], [3.36, 7.88], [3.24, 7.6], [2.79, 7.8], [4.15, 7.66], [4.38, 7.76], [4.95, 7.79], [5.12, 7.76], [10.73, 7.68], [10.3, 7.54], [11.29, 7.36], [8.67, 7.6], [8.78, 7.68], [9.04, 7.18], [8.19, 7.91], [8.08, 7.6], [7.91, 7.37], [9.35, 6.26], [9.17, 6.12], [8.51, 6.49], [8.74, 6.26], [8.19, 6.15], [7.94, 5.89], [9.19, 5.24], [8.76, 4.32], [8.53, 3.76], [7.57, 4.73], [7.34, 4.5], [7.55, 4], [6.97, 3.89], [10.75, 2.95], [10.75, 2.24], [8.53, 2.14], [7.12, 2.49], [7.12, 1.83], [6.31, 1.56], [6.14, 2.9], [6.37, 3.1], [6.46, 3.25], [6.75, 3.33], [6.66, 2.64], [6.54, 2.41], [6.5, 2.26], [5.57, 1.27], [5.57, 0.64], [5.2, 1.47], [5.26, 2], [5.44, 2.34], [5.04, 0.2], [4.73, 0.2], [5.2, 0.2], [3.9, 0.27], [3.53, 0.5], [3.87, 0.58], [2.84, 0.4], [2.28, 0.35],
]

const toPoints = (rows: [number, number[]][], sparse: number[][]) => [
  ...rows.flatMap(([y, xs]) => xs.map(x => ({ x, y }))),
  ...sparse.map(([x, y]) => ({ x, y })),
]
const zip = (xs: number[], ys: number[]) => xs.map((x, i) => ({ x, y: ys[i] }))

function mix(a: number[], b: number[], t: number) {
  return `rgb(${a.map((v, i) => Math.round(v + (b[i] - v) * t)).join(',')})`
}
const JET_STOPS: [number, number[]][] = [
  [0, [0, 0, 143]], [6.25, [0, 0, 255]], [18.75, [0, 255, 255]], [31.25, [255, 255, 0]], [43.75, [255, 0, 0]], [50, [128, 0, 0]],
]
function jet(v: number) {
  for (let i = 1; i < JET_STOPS.length; i++) {
    if (v <= JET_STOPS[i][0]) {
      const [v0, c0] = JET_STOPS[i - 1]
      const [v1, c1] = JET_STOPS[i]
      return mix(c0, c1, (v - v0) / (v1 - v0))
    }
  }
  return 'rgb(128,0,0)'
}

// px box of a plot, with room round it for the tick labels
// the axes take 1px each because an axis of size 0 is not drawn
const PAD = { left: 70, right: 40, top: 20, bottom: 50 }
function boxOf(x0: number, y0: number, x1: number, y1: number, axisSize = 1) {
  return {
    style: { position: 'absolute' as const, left: x0 - PAD.left, top: y0 - PAD.top },
    width: x1 - x0 + PAD.left + PAD.right,
    height: y1 - y0 + PAD.top + PAD.bottom,
    margin: { left: PAD.left - axisSize, right: PAD.right, top: PAD.top, bottom: PAD.bottom - axisSize },
  }
}
const tickStyle = (fontSize: number) => ({ fontSize, fontWeight: 700, fontFamily: FONT, fill: '#000' })
const axisLine = (width: number, stroke = AXIS) => ({ stroke, strokeWidth: width })
const tickLine = (width: number, stroke = AXIS) => ({ stroke, strokeWidth: width })

function HeatCell(props: any) {
  const { cx, cy, payload } = props
  return (
    <rect x={cx - 4.13} y={cy - 4.7} width={8.27} height={9.41} fill={jet(payload.v)} stroke="#000" strokeWidth={1} strokeOpacity={0.8} />
  )
}
const dot = (r: number, fill: string) => (props: any) => <circle cx={props.cx} cy={props.cy} r={r} fill={fill} />
const noMark = () => <g />

// panel F: the last label sits against the page edge, so it moves in a little
function EdgeTick(props: any) {
  const { x, y, payload } = props
  return (
    <text x={payload.value === 14 ? x - 5 : x} y={y} dy="0.8em" textAnchor="middle" {...tickStyle(29)}>
      {payload.value}
    </text>
  )
}

function Txt({ x, y, size, children, rotate, weight = 700, stroke }: any) {
  return (
    <div
      style={{
        position: 'absolute',
        left: x,
        top: y,
        transform: `translate(-50%, -50%)${rotate ? ' rotate(-90deg)' : ''}`,
        fontFamily: FONT,
        fontSize: size,
        fontWeight: weight,
        whiteSpace: 'nowrap',
        color: '#000',
        lineHeight: 1,
        WebkitTextStroke: stroke,
      }}
    >
      {children}
    </div>
  )
}

function Times10({ x, y }: { x: number; y: number }) {
  return (
    <Txt x={x} y={y} size={30} weight={400} stroke="0.4px #000">
      ×10<span style={{ fontSize: 22, position: 'relative', top: -13 }}>4</span>
    </Txt>
  )
}

function HeatPanel() {
  return (
    <ScatterChart {...boxOf(150.5, 15.5, 1589, 392)}>
      <XAxis type="number" dataKey="x" domain={[0, 86.65]} ticks={heatTimeTicks} interval={0} height={1}
        tick={tickStyle(29)} tickSize={-10} tickMargin={19} axisLine={axisLine(3.5, '#333')} tickLine={tickLine(3, '#444')} />
      <YAxis type="number" dataKey="y" domain={[0, 8]} ticks={heatVolumeTicks} interval={0} width={1}
        tick={tickStyle(29)} tickSize={-13} tickMargin={23} axisLine={axisLine(3.5, '#333')} tickLine={tickLine(3, '#444')} />
      <Scatter data={heatCells} shape={HeatCell} isAnimationActive={false} />
      {cycleMarkers.map(m => (
        <Scatter key={m.color} data={[{ x: m.x, y: m.from }, { x: m.x, y: m.to }]} shape={noMark}
          line={{ stroke: m.color, strokeWidth: m.width, strokeLinecap: 'round' }} isAnimationActive={false} />
      ))}
    </ScatterChart>
  )
}

function Colorbar() {
  return (
    <BarChart {...boxOf(1604, 16, 1629, 392)} data={colorbarData} barCategoryGap={0}>
      <defs>
        <linearGradient id="jetBar" x1="0" y1="1" x2="0" y2="0">
          {JET_STOPS.map(([v, c]) => (
            <stop key={v} offset={v / 50} stopColor={`rgb(${c.join(',')})`} />
          ))}
        </linearGradient>
      </defs>
      <XAxis dataKey="name" hide />
      <YAxis orientation="right" type="number" domain={[0, 50]} ticks={colorbarTicks} interval={0} width={1}
        tick={tickStyle(29)} tickLine={false} axisLine={false} tickSize={4} tickMargin={0} />
      <Bar dataKey="top" fill="url(#jetBar)" stroke="#777" strokeWidth={1} isAnimationActive={false} />
    </BarChart>
  )
}

// the curve sits in its own chart on top: in one chart its x values would shrink the bar band
function Histogram({ box, centers, counts, fitX, fitY, xTicks, yTicks, xMax, yMax, color, barSize }: any) {
  const bins = centers.map((x: number, i: number) => ({ x, count: counts[i] }))
  const fit = fitX.map((x: number, i: number) => ({ x, fit: fitY[i] }))
  return (
    <>
      <BarChart {...boxOf(box[0], 515, box[1], 784)} data={bins}>
        <XAxis type="number" dataKey="x" domain={[0, xMax]} ticks={xTicks} interval={0} height={1}
          tick={tickStyle(27)} tickSize={-4} tickMargin={12} axisLine={axisLine(3.5, '#111')} tickLine={tickLine(2.5, '#111')} />
        <YAxis type="number" domain={[0, yMax]} ticks={yTicks} interval={0} width={1}
          tick={tickStyle(27)} tickSize={-4} tickMargin={13} axisLine={axisLine(3, '#111')} tickLine={tickLine(2.5, '#111')} />
        <Bar dataKey="count" fill={color} stroke="#000" strokeWidth={3.5} barSize={barSize} isAnimationActive={false} />
      </BarChart>
      <LineChart {...boxOf(box[0], 515, box[1], 784, 0)} data={fit}>
        <XAxis type="number" dataKey="x" domain={[0, xMax]} hide />
        <YAxis type="number" domain={[0, yMax]} hide />
        <Line dataKey="fit" type="monotone" dot={false} stroke="#f00" strokeWidth={3.5} isAnimationActive={false} />
      </LineChart>
    </>
  )
}

function CvPanel() {
  return (
    <ScatterChart {...boxOf(137, 928, 1610, 1214.7)}>
      {mitosisBands.map(([x1, x2]) => (
        <ReferenceArea key={x1} x1={x1} x2={x2} y1={0} y2={1} fill="#cccccc" fillOpacity={1} stroke="none" />
      ))}
      <XAxis type="number" dataKey="x" domain={[0, 80]} ticks={cvTimeTicks} interval={0} height={1}
        tick={tickStyle(29)} tickSize={-10} tickMargin={20} axisLine={axisLine(3.5, '#333')} tickLine={tickLine(3, '#333')} />
      <YAxis type="number" dataKey="y" domain={[0, 1]} ticks={cvTicks} interval={0} width={1}
        tickFormatter={(v: number) => (v === 0 ? '0' : v.toFixed(1))}
        tick={tickStyle(29)} tickSize={-10} tickMargin={17} axisLine={axisLine(3.5, '#333')} tickLine={tickLine(3, '#333')} />
      <Scatter data={zip(c11CvX, c11CvY)} shape={dot(3.2, '#ff9900')} isAnimationActive={false} />
      <Scatter data={zip(c12CvX, c12CvY)} shape={dot(3.2, '#00cc00')} isAnimationActive={false} />
      <Scatter data={zip(c13CvX, c13CvY)} shape={dot(3.2, '#00bfff')} isAnimationActive={false} />
      <Scatter data={zip(c14CvX, c14CvY)} shape={dot(3.2, '#7a14c8')} isAnimationActive={false} />
    </ScatterChart>
  )
}

function Correlation({ box, points, fit, yTicks, yMax, lineWidth, xTick }: any) {
  return (
    <ScatterChart {...boxOf(box[0], box[1], box[2], box[3])}>
      <XAxis type="number" dataKey="x" domain={[0, 14]} ticks={tickX} interval={0} height={1}
        tick={xTick ?? tickStyle(29)} tickSize={-5} tickMargin={11} axisLine={axisLine(3, '#000')} tickLine={tickLine(2.5, '#000')} />
      <YAxis type="number" dataKey="y" domain={[0, yMax]} ticks={yTicks} interval={0} width={1}
        tick={tickStyle(29)} tickSize={-5} tickMargin={11} axisLine={axisLine(3, '#000')} tickLine={tickLine(2.5, '#000')} />
      <Scatter data={points} shape={dot(3.6, '#000')} isAnimationActive={false} />
      <ReferenceLine segment={[{ x: fit[0][0], y: fit[0][1] }, { x: fit[1][0], y: fit[1][1] }]} stroke="#000" strokeWidth={lineWidth} />
    </ScatterChart>
  )
}

export default function App() {
  return (
    <div style={{ position: 'absolute', left: 0, top: 0, width: 1696, height: 1860, background: '#fff', overflow: 'hidden' }}>
      <HeatPanel />
      <Colorbar />
      <Histogram box={[139, 481.5]} centers={c11Centers} counts={c11Counts} fitX={c11FitX} fitY={c11FitY}
        xTicks={[0, 1, 2, 3]} yTicks={[0, 5, 10, 15]} xMax={3} yMax={15} color="#ff9900" barSize={37.4} />
      <Histogram box={[537.5, 876.5]} centers={c12Centers} counts={c12Counts} fitX={c12FitX} fitY={c12FitY}
        xTicks={[0, 1, 2, 3, 4, 5, 6]} yTicks={[0, 5, 10, 15, 20, 25]} xMax={6} yMax={25} color="#00cc00" barSize={35.4} />
      <Histogram box={[941, 1280]} centers={c13Centers} counts={c13Counts} fitX={c13FitX} fitY={c13FitY}
        xTicks={[0, 1, 2, 3, 4, 5, 6]} yTicks={[0, 5, 10, 15, 20, 25, 30, 35]} xMax={6} yMax={35} color="#00bfff" barSize={24.7} />
      <Histogram box={[1345, 1686]} centers={c14Centers} counts={c14Counts} fitX={c14FitX} fitY={c14FitY}
        xTicks={[0, 1, 2, 3, 4, 5, 6, 7, 8, 9]} yTicks={[0, 5, 10, 15, 20, 25, 30, 35]} xMax={9} yMax={35} color="#7a14c8" barSize={21.2} />
      <CvPanel />
      <Correlation box={[99.5, 1389, 550, 1741]} points={toPoints(mrnaRows, mrnaSparse)} fit={mrnaFit} yTicks={mrnaTicks} yMax={6} lineWidth={3} />
      <Correlation box={[675.5, 1387, 1120, 1742]} points={toPoints(mpmRows, mpmSparse)} fit={mpmFit} yTicks={mpmTicks} yMax={20} lineWidth={4} />
      <Correlation box={[1238, 1387, 1682, 1742]} points={toPoints(mxcRows, mxcSparse)} fit={mxcFit} yTicks={mxcTicks} yMax={16} lineWidth={4.5} xTick={EdgeTick} />

      <Txt x={12} y={17} size={30}>A</Txt>
      <Txt x={12} y={505} size={30}>B</Txt>
      <Txt x={12} y={916} size={30}>C</Txt>
      <Txt x={13} y={1353} size={30}>D</Txt>
      <Txt x={589} y={1353} size={30}>E</Txt>
      <Txt x={1161} y={1353} size={30}>F</Txt>

      <Txt x={90} y={214} size={30} rotate>HLB Volume (µm³)</Txt>
      <Txt x={865} y={451} size={28.5}>Time (min)</Txt>

      <Txt x={181} y={535} size={28}>c11</Txt>
      <Txt x={579} y={535} size={28}>c12</Txt>
      <Txt x={982} y={535} size={28}>c13</Txt>
      <Txt x={1383} y={535} size={28}>c14</Txt>
      <Txt x={81} y={648} size={28.5} rotate>HLB Count</Txt>
      <Txt x={900} y={851} size={32.5}>HLB Volume (µm³)</Txt>

      <Txt x={192} y={952} size={28}>c11</Txt>
      <Txt x={281} y={952} size={28}>M</Txt>
      <Txt x={380} y={952} size={28}>c12</Txt>
      <Txt x={480} y={952} size={28}>M</Txt>
      <Txt x={625} y={952} size={28}>c13</Txt>
      <Txt x={771} y={952} size={28}>M</Txt>
      <Txt x={1213} y={952} size={28}>c14</Txt>
      <Txt x={71} y={1070} size={29} rotate>Coefficient of Variation</Txt>
      <Txt x={873} y={1275} size={28.5}>Time (min)</Txt>

      <Txt x={47} y={1581} size={25.5} rotate>Nascent mRNA (A.U.)</Txt>
      <Txt x={324} y={1843} size={28.5}>HLB-localized MPM-2 (A.U.)</Txt>
      <Txt x={619} y={1554} size={30} rotate>HLB-localized MPM-2 (A.U.)</Txt>
      <Txt x={898} y={1843} size={28.5}>HLB-localized FLASH (A.U.)</Txt>
      <Txt x={1180} y={1562} size={28.8} rotate>HLB-localized Mxc (A.U.)</Txt>
      <Txt x={1459} y={1843} size={28.5}>HLB-localized FLASH (A.U.)</Txt>

      <Times10 x={129} y={1373} />
      <Times10 x={523} y={1803} />
      <Times10 x={707} y={1370} />
      <Times10 x={1091} y={1803} />
      <Times10 x={1269} y={1370} />
      <Times10 x={1657} y={1803} />

      <Txt x={480} y={1570} size={28.4} weight={400} stroke="0.4px #000">R² = 0.48</Txt>
      <Txt x={814} y={1443} size={28.4} weight={400} stroke="0.4px #000">R² = 0.48</Txt>
      <Txt x={1360} y={1476} size={28.4} weight={400} stroke="0.4px #000">R² = 0.76</Txt>
    </div>
  )
}
